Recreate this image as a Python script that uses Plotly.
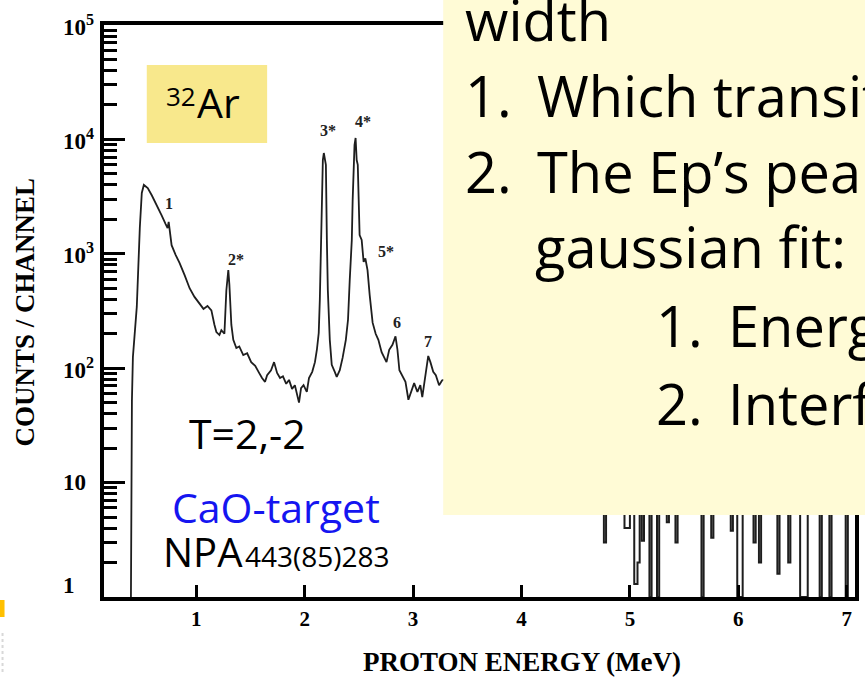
import plotly.graph_objects as go
import math

# ---------------- data ----------------
energy_mev = [0.398, 0.407, 0.416, 0.452, 0.480, 0.498, 0.517, 0.553, 0.590, 0.636,
              0.680, 0.718, 0.736, 0.746, 0.755, 0.773, 0.810, 0.847, 0.893, 0.939,
              0.984, 1.030, 1.067, 1.104, 1.140, 1.168, 1.186, 1.214, 1.232, 1.260,
              1.269, 1.278, 1.296, 1.306, 1.324, 1.342, 1.370, 1.397, 1.434, 1.470,
              1.507, 1.544, 1.580, 1.607, 1.635, 1.654, 1.690, 1.718, 1.746, 1.773,
              1.800, 1.830, 1.856, 1.884, 1.910, 1.930, 1.948, 1.967, 1.990, 2.020,
              2.040, 2.070, 2.095, 2.113, 2.130, 2.140, 2.150, 2.159, 2.168, 2.177,
              2.196, 2.205, 2.214, 2.232, 2.250, 2.278, 2.296, 2.324, 2.350, 2.380,
              2.400, 2.416, 2.435, 2.443, 2.450, 2.460, 2.470, 2.480, 2.490, 2.498,
              2.507, 2.526, 2.544, 2.560, 2.580, 2.600, 2.627, 2.655, 2.680, 2.710,
              2.737, 2.755, 2.780, 2.810, 2.838, 2.856, 2.874, 2.900, 2.930, 2.957,
              2.985, 3.010, 3.040, 3.067, 3.085, 3.110, 3.140, 3.160, 3.186, 3.210,
              3.240, 3.270]
counts = [1, 52, 125, 345, 1700, 3400, 4000, 3760, 3250, 2680,
          2180, 1820, 1680, 1900, 1570, 1190, 980, 830, 650, 500,
          420, 372, 330, 350, 320, 240, 207, 195, 215, 200,
          320, 480, 720, 535, 240, 177, 150, 155, 130, 135,
          113, 105, 91, 82, 76, 87, 96, 113, 91, 82,
          85, 73, 79, 66, 71, 59, 50, 67, 71, 62,
          82, 93, 113, 145, 203, 395, 1080, 3600, 6600, 7600,
          6000, 1320, 480, 177, 107, 93, 84, 96, 123, 177,
          265, 590, 1320, 2960, 6000, 8900, 10300, 6600, 6000, 2960,
          1460, 1320, 850, 910, 720, 435, 250, 200, 177, 138,
          123, 113, 145, 160, 190, 145, 96, 87, 76, 53,
          64, 74, 62, 71, 56, 79, 128, 113, 93, 87,
          71, 79]

# high-energy tail (histogram bins, few counts)
tail_energy = [3.27, 3.35, 3.45, 3.55, 3.65, 3.75, 3.85, 3.95, 4.05, 4.15,
               4.25, 4.35, 4.45, 4.55, 4.65, 4.76, 4.78, 4.95, 5.00, 5.04,
               5.07, 5.09, 5.11, 5.13, 5.18, 5.20, 5.25, 5.27, 5.34, 5.36,
               5.42, 5.44, 5.66, 5.68, 5.75, 5.77, 5.93, 5.95, 5.99, 6.04,
               6.14, 6.16, 6.19, 6.21, 6.36, 6.38, 6.46, 6.48, 6.57, 6.64,
               6.75, 6.77, 6.84, 6.86, 6.99, 7.01, 7.08]
tail_counts = [79, 60, 48, 52, 40, 35, 38, 28, 30, 22,
               20, 16, 14, 12, 9, 3.0, 8, 4.0, 7, 1.3,
               2.0, 7, 3.1, 8, 1, 9, 1, 7, 4.5, 8,
               3.0, 9, 1, 8, 3.3, 9, 3.8, 8, 1, 7,
               3.0, 8, 2.0, 9, 1.6, 7, 2.0, 8, 1, 7,
               1, 8, 1, 7, 1, 7, 7]

peak_labels = ["1", "2*", "3*", "4*", "5*", "6", "7"]
peak_label_energy = [0.75, 1.37, 2.22, 2.54, 2.75, 2.85, 3.14]
peak_label_counts = [2760, 890, 12000, 14200, 1040, 250, 170]

x_tick_vals = [1, 2, 3, 4, 5, 6, 7]
x_tick_text = ["1", "2", "3", "4", "5", "6", "7"]
y_tick_vals = [1, 10, 100, 1000, 10000, 100000]
y_tick_text = ["1", "10", "10<sup>2</sup>", "10<sup>3</sup>", "10<sup>4</sup>", "10<sup>5</sup>"]
y_minor_vals = [m * 10 ** d for d in range(0, 5) for m in range(2, 10)]

bullet_lines = [
    ("", "width", 468, 41, 0),
    ("1.", "Which transition", 468, 117, 540),
    ("2.", "The Ep\u2019s peak", 468, 193, 540),
    ("", "gaussian fit:", 538, 268, 0),
    ("1.", "Energy", 660, 347, 732),
    ("2.", "Interference", 660, 425, 732),
]

# ---------------- figure ----------------
W, H = 865, 677
L, R, T, B = 104, 6, 25, 80
PW, PH = W - L - R, H - T - B


def px(x):
    return (x - L) / PW


def py(y):
    return (H - B - y) / PH


fig = go.Figure()
fig.add_trace(go.Scatter(x=energy_mev, y=counts, mode="lines",
                         line=dict(color="#1e1e1e", width=1.8), hoverinfo="skip"))
fig.add_trace(go.Scatter(x=tail_energy, y=tail_counts, mode="lines",
                         line=dict(color="#1e1e1e", width=2, shape="hv"), hoverinfo="skip"))

serif = "Liberation Serif"
sans = "Open Sans"

annotations = []
for t, e, c in zip(peak_labels, peak_label_energy, peak_label_counts):
    annotations.append(dict(x=e, y=math.log10(c), xref="x", yref="y", text=t, showarrow=False,
                            font=dict(family=serif, size=16, color="#222", weight="bold")))

for v, t in zip(y_tick_vals, y_tick_text):
    annotations.append(dict(x=px(61), y=math.log10(v), xref="paper", yref="y", text=t,
                            showarrow=False, xanchor="left", yanchor="middle",
                            yshift=(12 if v == 1 else 0),
                            font=dict(family=serif, size=23, color="black", weight="bold")))

annotations.append(dict(x=px(25), y=py(312), xref="paper", yref="paper", text="COUNTS / CHANNEL",
                        textangle=-90, showarrow=False, xanchor="center", yanchor="middle",
                        font=dict(family=serif, size=27, color="black", weight="bold")))
annotations.append(dict(x=px(524), y=py(662), xref="paper", yref="paper", text="PROTON ENERGY (MeV)",
                        showarrow=False, xanchor="center", yanchor="middle",
                        font=dict(family=serif, size=27, color="black", weight="bold")))


def sans_text(text, left, baseline, size, color="black"):
    return dict(x=px(left), y=py(baseline - 0.388 * size), xref="paper", yref="paper", text=text,
                showarrow=False, xanchor="left", yanchor="middle",
                font=dict(family=sans, size=size, color=color))


annotations.append(sans_text("32", 164, 106, 26))
annotations.append(sans_text("Ar", 195, 118, 41))
annotations.append(sans_text("T=2,-2", 187, 449, 41))
annotations.append(sans_text("CaO-target", 170, 523, 41, color="#1515F0"))
annotations.append(sans_text("NPA", 161, 567, 40))
annotations.append(sans_text("443(85)283", 244, 567, 28))

for num, txt, x_num, base, x_txt in bullet_lines:
    if num:
        annotations.append(sans_text(num, x_num - 3, base, 56))
        annotations.append(sans_text(txt, x_txt - 3, base, 56))
    else:
        annotations.append(sans_text(txt, x_num - 3, base, 56))

shapes = [
    dict(type="rect", xref="paper", yref="paper", x0=px(445), x1=px(875), y0=py(515), y1=py(-5),
         fillcolor="#FFFBD6", line=dict(width=0), layer="above"),
    dict(type="rect", xref="paper", yref="paper", x0=px(147), x1=px(268), y0=py(143), y1=py(65),
         fillcolor="#F8E88C", line=dict(width=0), layer="above"),
    dict(type="rect", xref="paper", yref="paper", x0=px(-2), x1=px(4), y0=py(617), y1=py(600),
         fillcolor="#FFC000", line=dict(width=0), layer="above"),
    dict(type="line", xref="paper", yref="paper", x0=px(2), x1=px(2), y0=py(672), y1=py(632),
         line=dict(color="#D8D8D8", width=2, dash="dot"), layer="above"),
]

fig.update_layout(
    width=W, height=H, margin=dict(l=L, r=R, t=T, b=B),
    paper_bgcolor="white", plot_bgcolor="white", showlegend=False,
    xaxis=dict(range=[0.1495, 7.076], showgrid=False, zeroline=False, showline=True,
               linewidth=4, linecolor="black", mirror=True, ticks="inside", ticklen=12,
               tickwidth=3, tickcolor="black", tickvals=x_tick_vals, ticktext=x_tick_text,
               tickfont=dict(family=serif, size=21, color="black", weight="bold")),
    yaxis=dict(type="log", range=[0, 5], showgrid=False, zeroline=False, showline=True,
               linewidth=4, linecolor="black", mirror=True, ticks="inside", ticklen=21,
               tickwidth=3, tickcolor="black", tickvals=y_tick_vals, showticklabels=False,
               minor=dict(tickvals=y_minor_vals, ticks="inside", ticklen=13, tickwidth=3,
                          tickcolor="black")),
    annotations=annotations,
    shapes=shapes,
)

fig.write_html("out.html", config={"displayModeBar": False},
               post_script="document.body.style.margin='0';")
